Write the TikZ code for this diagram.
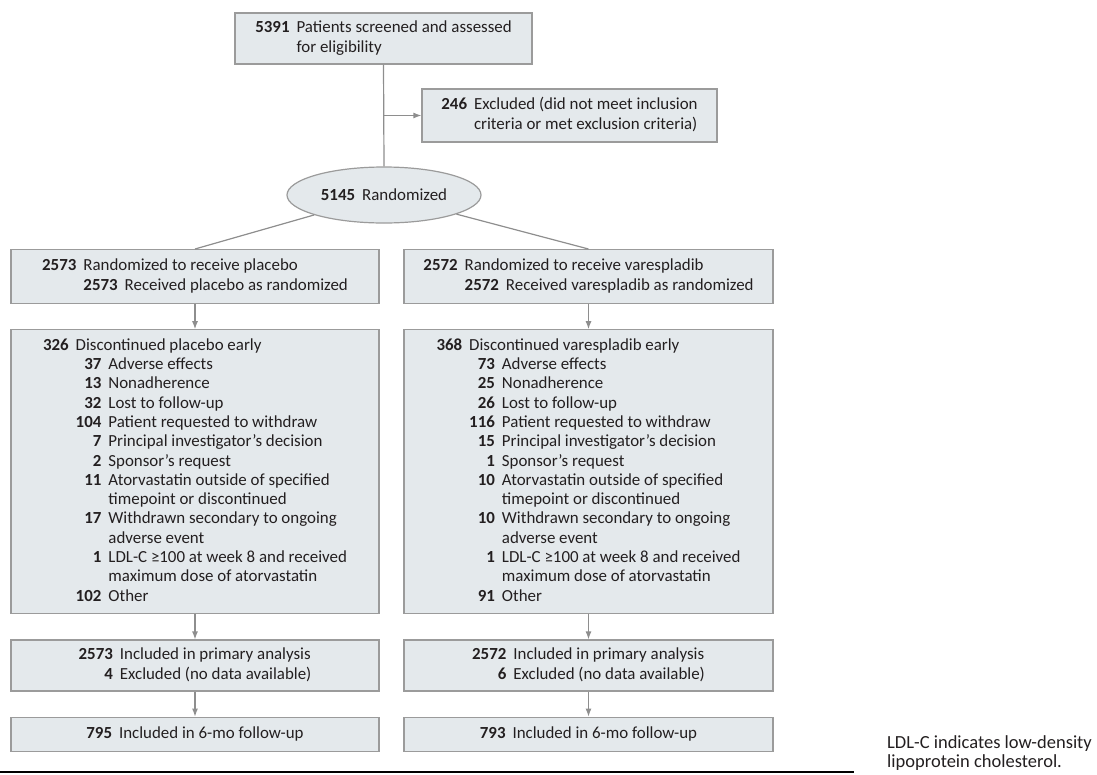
\documentclass[tikz,border=0pt]{standalone}
\usepackage{fontspec}
\setmainfont{Carlito}
\usepackage{xcolor}
\usepackage{tikz}
\usetikzlibrary{shapes.geometric, arrows.meta, positioning}
\definecolor{boxfill}{HTML}{E4E9EC}
\definecolor{boxline}{HTML}{9B9B9B}
\definecolor{linegray}{HTML}{8E8E8E}
\definecolor{textgray}{HTML}{231F20}
\tikzstyle{flowbox} = [rectangle, draw=boxline, fill=boxfill, line width=1.2pt, inner sep=0pt,
    text=textgray, font=\fontsize{16.9}{19.3}\selectfont]
\tikzstyle{colbox}  = [flowbox, minimum width=368pt]
\tikzstyle{oval}    = [ellipse, draw=boxline, fill=boxfill, line width=1.2pt, inner sep=0pt,
    text=textgray, font=\fontsize{16.9}{19.3}\selectfont]
\tikzstyle{link}    = [line width=1.2pt, draw=linegray]
\tikzstyle{arrow}   = [link, -{Latex[length=8pt,width=6pt]}, color=linegray]

\begin{document}
\begin{tikzpicture}[x=1pt, y=-1pt, node distance=25pt]
    \useasboundingbox (0,0) rectangle (1097,774);
    \node (screen) [flowbox, minimum width=297pt, minimum height=51pt] at (383.5,38.5)
        {\begin{tabular}{@{}r@{\hspace{7pt}}l@{}}
         \textbf{5391} & Patients screened and assessed\\
                       & for eligibility
         \end{tabular}};
    \node (excl)   [flowbox, minimum width=295pt, minimum height=53pt] at (569.5,115.5)
        {\begin{tabular}{@{}r@{\hspace{7pt}}l@{}}
         \textbf{246} & Excluded (did not meet inclusion\\
                      & criteria or met exclusion criteria)
         \end{tabular}};
    \node (rand)   [oval, minimum width=194pt, minimum height=56pt] at (384,195)
        {\textbf{5145}\hspace{7pt}Randomized};

    % placebo arm
    \node (plac)   [colbox, minimum height=54pt, anchor=north] at (195,249)
        {\begin{tabular}{@{}r@{\hspace{7pt}}r@{\hspace{7pt}}l@{}}
         \textbf{2573} & \multicolumn{2}{@{}l@{}}{Randomized to receive placebo}\\
                       & \textbf{2573} & Received placebo as randomized
         \end{tabular}};
    \node (placdc) [colbox, minimum height=284pt, below=of plac]
        {\begin{tabular}{@{}r@{\hspace{7pt}}r@{\hspace{7pt}}l@{}}
         \textbf{326} & \multicolumn{2}{@{}l@{}}{Discontinued placebo early}\\
         & \textbf{37}  & Adverse effects\\
         & \textbf{13}  & Nonadherence\\
         & \textbf{32}  & Lost to follow-up\\
         & \textbf{104} & Patient requested to withdraw\\
         & \textbf{7}   & Principal investigator’s decision\\
         & \textbf{2}   & Sponsor’s request\\
         & \textbf{11}  & Atorvastatin outside of specified\\
         &              & timepoint or discontinued\\
         & \textbf{17}  & Withdrawn secondary to ongoing\\
         &              & adverse event\\
         & \textbf{1}   & LDL-C ≥100 at week 8 and received\\
         &              & maximum dose of atorvastatin\\
         & \textbf{102} & Other
         \end{tabular}};
    \node (placan) [colbox, minimum height=51pt, below=of placdc]
        {\begin{tabular}{@{}r@{\hspace{7pt}}l@{}}
         \textbf{2573} & Included in primary analysis\\
         \textbf{4}    & Excluded (no data available)
         \end{tabular}};
    \node (placfu) [colbox, minimum height=34pt, below=of placan]
        {\textbf{795}\hspace{7pt}Included in 6-mo follow-up};

    % varespladib arm
    \node (vare)   [colbox, minimum width=369pt, minimum height=54pt, anchor=north] at (588.5,249)
        {\begin{tabular}{@{}r@{\hspace{7pt}}r@{\hspace{7pt}}l@{}}
         \textbf{2572} & \multicolumn{2}{@{}l@{}}{Randomized to receive varespladib}\\
                       & \textbf{2572} & Received varespladib as randomized
         \end{tabular}};
    \node (varedc) [colbox, minimum width=369pt, minimum height=284pt, below=of vare]
        {\begin{tabular}{@{}r@{\hspace{7pt}}r@{\hspace{7pt}}l@{}}
         \textbf{368} & \multicolumn{2}{@{}l@{}}{Discontinued varespladib early}\\
         & \textbf{73}  & Adverse effects\\
         & \textbf{25}  & Nonadherence\\
         & \textbf{26}  & Lost to follow-up\\
         & \textbf{116} & Patient requested to withdraw\\
         & \textbf{15}  & Principal investigator’s decision\\
         & \textbf{1}   & Sponsor’s request\\
         & \textbf{10}  & Atorvastatin outside of specified\\
         &              & timepoint or discontinued\\
         & \textbf{10}  & Withdrawn secondary to ongoing\\
         &              & adverse event\\
         & \textbf{1}   & LDL-C ≥100 at week 8 and received\\
         &              & maximum dose of atorvastatin\\
         & \textbf{91}  & Other
         \end{tabular}};
    \node (varean) [colbox, minimum width=369pt, minimum height=51pt, below=of varedc]
        {\begin{tabular}{@{}r@{\hspace{7pt}}l@{}}
         \textbf{2572} & Included in primary analysis\\
         \textbf{6}    & Excluded (no data available)
         \end{tabular}};
    \node (varefu) [colbox, minimum width=369pt, minimum height=34pt, below=of varean]
        {\textbf{793}\hspace{7pt}Included in 6-mo follow-up};

    \node (note) [anchor=north west, align=left, inner sep=0pt, text=textgray,
        font=\fontsize{18.5}{19}\selectfont] at (887,735)
        {LDL-C indicates low-density\\lipoprotein cholesterol.};

    \coordinate (branch) at (screen.south |- excl.west);
    \draw [link]  (screen.south) -- (rand.north);
    \draw [arrow] (branch) -- (excl.west);
    \draw [link]  (rand) -- (plac.north);
    \draw [link]  (rand) -- (vare.north);
    \draw [arrow] (plac)   -- (placdc);
    \draw [arrow] (placdc) -- (placan);
    \draw [arrow] (placan) -- (placfu);
    \draw [arrow] (vare)   -- (varedc);
    \draw [arrow] (varedc) -- (varean);
    \draw [arrow] (varean) -- (varefu);
    \draw [line width=2pt] (0,772) -- (854,772);
\end{tikzpicture}
\end{document}
